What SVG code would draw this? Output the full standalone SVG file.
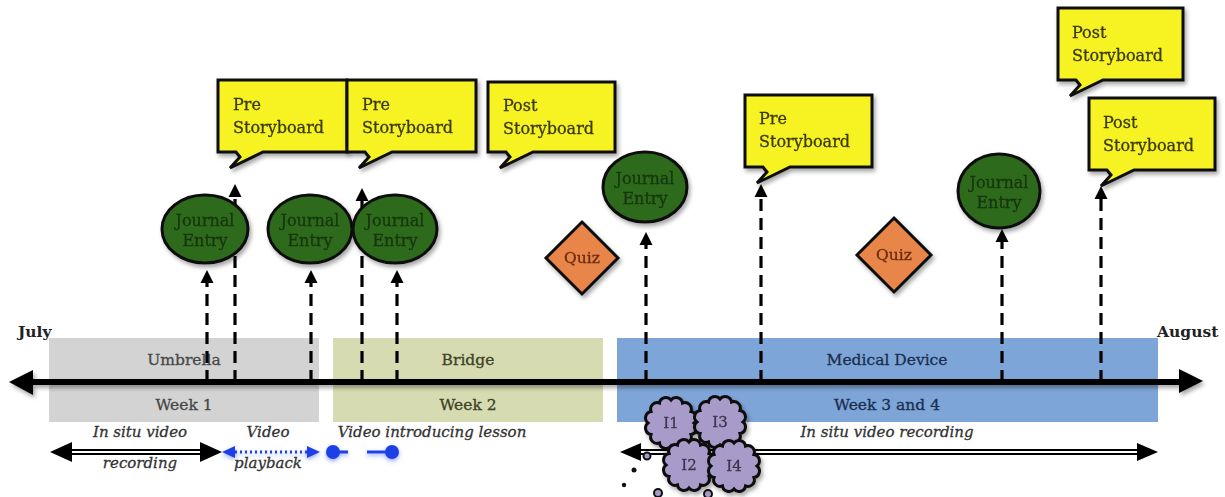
<svg xmlns="http://www.w3.org/2000/svg" xmlns:xlink="http://www.w3.org/1999/xlink" width="1225" height="497" viewBox="0 0 1225 497">
  <defs>
    <filter id="shadow" x="-20%" y="-20%" width="140%" height="150%">
      <feDropShadow dx="2" dy="3" stdDeviation="2" flood-color="#000" flood-opacity="0.35"/>
    </filter>
    <filter id="glow" x="-20%" y="-50%" width="140%" height="200%">
      <feDropShadow dx="0" dy="2" stdDeviation="2" flood-color="#3050ff" flood-opacity="0.5"/>
    </filter>
    <marker id="up" markerUnits="userSpaceOnUse" viewBox="0 -7 14 14" markerWidth="14" markerHeight="14" refX="0" refY="0" orient="auto">
      <path d="M0,-6.5 L13,0 L0,6.5 Z" fill="#000"/>
    </marker>
    <!-- scalloped cloud outline centred on 0,0 (12 bumps) -->
    <path id="cloud" d="M23,0 A6.5,6.5 0 0 1 19.92,11.5 A6.5,6.5 0 0 1 11.5,19.92 A6.5,6.5 0 0 1 0,23 A6.5,6.5 0 0 1 -11.5,19.92 A6.5,6.5 0 0 1 -19.92,11.5 A6.5,6.5 0 0 1 -23,0 A6.5,6.5 0 0 1 -19.92,-11.5 A6.5,6.5 0 0 1 -11.5,-19.92 A6.5,6.5 0 0 1 0,-23 A6.5,6.5 0 0 1 11.5,-19.92 A6.5,6.5 0 0 1 19.92,-11.5 A6.5,6.5 0 0 1 23,0 Z"/>
  </defs>
  <style>
    text { font-family: "DejaVu Serif", "Liberation Serif", serif; stroke-width: 0.3px; }
    .band-lbl { font-size: 15.5px; text-anchor: middle; }
    .month { font-size: 15.5px; font-weight: bold; fill: #222; }
    .ital { font-size: 15px; font-style: italic; fill: #333; stroke: #333; text-anchor: middle; }
    .dash { stroke: #000; stroke-width: 3.2; stroke-dasharray: 12 7; fill: none; marker-end: url(#up); }
    .callout path { fill: #f7f224; stroke: #111; stroke-width: 3; stroke-linejoin: miter; }
    .callout text { font-size: 16px; fill: #3a3a08; stroke: #3a3a08; }
    .journal ellipse { fill: #2e6a1e; stroke: #111; stroke-width: 3; }
    .journal text { font-size: 16px; fill: #17360d; stroke: #17360d; text-anchor: middle; }
    .quiz polygon { fill: #e8854a; stroke: #111; stroke-width: 3; }
    .quiz text { font-size: 15.5px; fill: #6a2a10; stroke: #6a2a10; text-anchor: middle; }
    .idea use { fill: #a99bc9; stroke: #111; stroke-width: 3; }
    .idea text { font-size: 15px; fill: #3b3450; stroke: #3b3450; text-anchor: middle; }
    .blue { stroke: #1e40e6; stroke-width: 3; fill: none; }
  </style>

  <rect width="1225" height="497" fill="#fff"/>

  <!-- project phases -->
  <g id="umbrella">
    <rect x="49" y="338" width="270" height="84" fill="#d3d3d3"/>
    <text class="band-lbl" x="184" y="365" fill="#474747" stroke="#474747">Umbrella</text>
    <text class="band-lbl" x="184" y="410" fill="#474747" stroke="#474747">Week 1</text>
  </g>
  <g id="bridge">
    <rect x="333" y="338" width="270" height="84" fill="#d6dbb2"/>
    <text class="band-lbl" x="468" y="365" fill="#3d4224" stroke="#3d4224">Bridge</text>
    <text class="band-lbl" x="468" y="410" fill="#3d4224" stroke="#3d4224">Week 2</text>
  </g>
  <g id="medical-device">
    <rect x="617" y="338" width="541" height="84" fill="#7ea5d8"/>
    <text class="band-lbl" x="887" y="365" fill="#1c2e4d" stroke="#1c2e4d">Medical Device</text>
    <text class="band-lbl" x="887" y="410" fill="#1c2e4d" stroke="#1c2e4d">Week 3 and 4</text>
  </g>

  <text id="july" class="month" x="18" y="337">July</text>
  <text id="august" class="month" x="1157" y="337">August</text>

  <!-- connectors -->
  <g id="connectors">
    <!-- event markers rising from the time line -->
    <line class="dash" x1="207" y1="382" x2="207" y2="283"/>
    <line class="dash" x1="235" y1="382" x2="235" y2="197"/>
    <line class="dash" x1="311" y1="382" x2="311" y2="283"/>
    <line class="dash" x1="362" y1="382" x2="362" y2="201"/>
    <line class="dash" x1="397" y1="382" x2="397" y2="283"/>
    <line class="dash" x1="646" y1="382" x2="646" y2="245"/>
    <line class="dash" x1="761" y1="382" x2="761" y2="197"/>
    <line class="dash" x1="1002" y1="382" x2="1002" y2="242"/>
    <line class="dash" x1="1101" y1="382" x2="1101" y2="199"/>

    <!-- main time line -->
    <g filter="url(#shadow)">
      <line x1="30" y1="382" x2="1182" y2="382" stroke="#000" stroke-width="6"/>
      <polygon points="9,382 33,370 33,395" fill="#000"/>
      <polygon points="1203,381 1179,369 1179,393" fill="#000"/>
    </g>

    <!-- in situ recording, week 1 -->
    <g id="rec-week1">
      <line x1="70" y1="452" x2="202" y2="452" stroke="#000" stroke-width="6"/>
      <line x1="70" y1="452" x2="202" y2="452" stroke="#fff" stroke-width="2"/>
      <polygon points="50,452 72,442 72,462" fill="#000"/>
      <polygon points="222,452 200,442 200,462" fill="#000"/>
    </g>

    <!-- video playback and lesson video -->
    <g id="playback" filter="url(#glow)">
      <line class="blue" x1="235" y1="452" x2="307" y2="452" stroke-dasharray="2 3"/>
      <polygon points="222,452 235,446 235,458" fill="#1e40e6"/>
      <polygon points="320,452 307,446 307,458" fill="#1e40e6"/>
      <line class="blue" x1="333" y1="452" x2="348" y2="452"/>
      <line class="blue" x1="367" y1="452" x2="392" y2="452"/>
      <circle cx="333" cy="452" r="7" fill="#1e40e6"/>
      <circle cx="392" cy="452" r="7" fill="#1e40e6"/>
    </g>

    <!-- in situ recording, weeks 3 and 4 -->
    <g id="rec-week34">
      <line x1="638" y1="452" x2="1140" y2="452" stroke="#000" stroke-width="6"/>
      <line x1="638" y1="452" x2="1140" y2="452" stroke="#fff" stroke-width="2"/>
      <polygon points="620,452 641,443 641,461" fill="#000"/>
      <polygon points="1158,452 1137,443 1137,461" fill="#000"/>
    </g>
  </g>

  <!-- journal entries -->
  <g id="journal-1" class="journal" filter="url(#shadow)">
    <ellipse cx="205" cy="229" rx="43" ry="34"/>
    <text x="205" y="226">Journal</text><text x="205" y="246">Entry</text>
  </g>
  <g id="journal-2" class="journal" filter="url(#shadow)">
    <ellipse cx="310" cy="229" rx="42" ry="34"/>
    <text x="310" y="226">Journal</text><text x="310" y="246">Entry</text>
  </g>
  <g id="journal-3" class="journal" filter="url(#shadow)">
    <ellipse cx="395" cy="229" rx="42" ry="34"/>
    <text x="395" y="226">Journal</text><text x="395" y="246">Entry</text>
  </g>
  <g id="journal-4" class="journal" filter="url(#shadow)">
    <ellipse cx="645" cy="187" rx="42" ry="35"/>
    <text x="645" y="184">Journal</text><text x="645" y="204">Entry</text>
  </g>
  <g id="journal-5" class="journal" filter="url(#shadow)">
    <ellipse cx="999" cy="191" rx="41" ry="37"/>
    <text x="999" y="188">Journal</text><text x="999" y="208">Entry</text>
  </g>

  <!-- storyboard callouts -->
  <g id="pre-storyboard-1" class="callout" filter="url(#shadow)">
    <path d="M218,80 H347 V152 H263 L230,168 L240,157 L236,152 H218 Z"/>
    <text x="233" y="110">Pre</text><text x="233" y="133">Storyboard</text>
  </g>
  <g id="pre-storyboard-2" class="callout" filter="url(#shadow)">
    <path d="M347,80 H476 V152 H392 L359,168 L369,157 L365,152 H347 Z"/>
    <text x="362" y="110">Pre</text><text x="362" y="133">Storyboard</text>
  </g>
  <g id="post-storyboard-1" class="callout" filter="url(#shadow)">
    <path d="M488,82 H615 V152 H533 L500,168 L510,157 L506,152 H488 Z"/>
    <text x="503" y="111">Post</text><text x="503" y="134">Storyboard</text>
  </g>
  <g id="pre-storyboard-3" class="callout" filter="url(#shadow)">
    <path d="M745,95 H872 V167 H790 L757,183 L767,172 L763,167 H745 Z"/>
    <text x="759" y="124">Pre</text><text x="759" y="147">Storyboard</text>
  </g>
  <g id="post-storyboard-2" class="callout" filter="url(#shadow)">
    <path d="M1058,8 H1183 V80 H1103 L1070,96 L1080,85 L1076,80 H1058 Z"/>
    <text x="1072" y="38">Post</text><text x="1072" y="61">Storyboard</text>
  </g>
  <g id="post-storyboard-3" class="callout" filter="url(#shadow)">
    <path d="M1089,98 H1215 V170 H1134 L1101,186 L1111,175 L1107,170 H1089 Z"/>
    <text x="1103" y="128">Post</text><text x="1103" y="151">Storyboard</text>
  </g>

  <!-- quizzes -->
  <g id="quiz-1" class="quiz" filter="url(#shadow)">
    <polygon points="582,222 618,258 582,294 546,258"/>
    <text x="582" y="263">Quiz</text>
  </g>
  <g id="quiz-2" class="quiz" filter="url(#shadow)">
    <polygon points="894,218 931,255 894,292 857,255"/>
    <text x="894" y="260">Quiz</text>
  </g>

  <!-- interview clouds with thought bubbles -->
  <g id="thought-dots">
    <circle cx="647" cy="456" r="3.5" fill="#a99bc9" stroke="#111" stroke-width="2"/>
    <circle cx="634" cy="470" r="2.5" fill="#111"/>
    <circle cx="624" cy="485" r="2.2" fill="#111"/>
    <circle cx="658" cy="493" r="4" fill="#a99bc9" stroke="#111" stroke-width="2"/>
    <circle cx="708" cy="494" r="4" fill="#a99bc9" stroke="#111" stroke-width="2"/>
  </g>
  <g id="i1" class="idea" filter="url(#shadow)">
    <use xlink:href="#cloud" transform="translate(671,423)"/>
    <text x="671" y="428">I1</text>
  </g>
  <g id="i3" class="idea" filter="url(#shadow)">
    <use xlink:href="#cloud" transform="translate(720,422)"/>
    <text x="720" y="427">I3</text>
  </g>
  <g id="i2" class="idea" filter="url(#shadow)">
    <use xlink:href="#cloud" transform="translate(689,465)"/>
    <text x="689" y="470">I2</text>
  </g>
  <g id="i4" class="idea" filter="url(#shadow)">
    <use xlink:href="#cloud" transform="translate(734,466)"/>
    <text x="734" y="471">I4</text>
  </g>

  <!-- activity labels -->
  <text class="ital" x="140" y="437">In situ video</text>
  <text class="ital" x="140" y="468">recording</text>
  <text class="ital" x="268" y="437">Video</text>
  <text class="ital" x="268" y="468">playback</text>
  <text class="ital" x="432" y="437">Video introducing lesson</text>
  <text class="ital" x="887" y="437">In situ video recording</text>
</svg>
